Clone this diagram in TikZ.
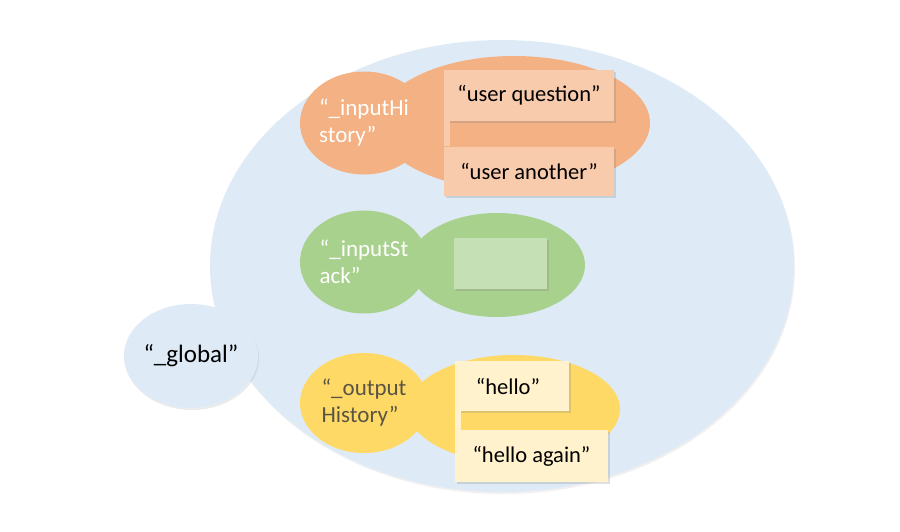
\documentclass[tikz,border=0pt]{standalone}
\usepackage{fontspec}
\setmainfont{Carlito}
\usetikzlibrary{shapes.geometric,shadows}
\definecolor{bgblue}{HTML}{DEEBF7}
\definecolor{orD}{HTML}{F4B183}
\definecolor{orL}{HTML}{F8CBAD}
\definecolor{grD}{HTML}{A9D18E}
\definecolor{grL}{HTML}{C5E0B4}
\definecolor{yeD}{HTML}{FFD966}
\definecolor{yeL}{HTML}{FFF2CC}
\definecolor{yetext}{HTML}{595443}
\tikzset{
  blob/.style={ellipse, inner sep=0pt, draw=none},
  keyblob/.style={blob, minimum width=128pt, minimum height=103pt, align=left,
     font=\fontsize{23}{27}\selectfont, text=white},
  valbox/.style={rectangle, inner sep=0pt, draw=none, font=\fontsize{22.5}{26}\selectfont,
     drop shadow={shadow xshift=2pt, shadow yshift=-2pt, opacity=0.25}},
}
\begin{document}
\begin{tikzpicture}[x=1pt,y=-1pt]
\useasboundingbox (0,0) rectangle (900,531);
% big scope ellipse
\node[blob, fill=bgblue, minimum width=584pt, minimum height=452pt,
  drop shadow={shadow xshift=1pt, shadow yshift=-2pt, opacity=0.12}] (scope) at (502,266) {};
\node[blob, fill=bgblue, minimum width=126pt, minimum height=104pt,
  drop shadow={shadow xshift=1pt, shadow yshift=-2pt, opacity=0.15},
  font=\fontsize{25}{29}\selectfont] (global) at (191,356) {“\_global”};
% orange group
\node[blob, fill=orD, minimum width=272pt, minimum height=134pt] (ihbig) at (514,123) {};
\node[keyblob, fill=orD] (ih) at (364,123) {“\_inputHi\\story”};
\node[valbox, fill=orL, minimum width=170pt, minimum height=51pt] (q1) at (529,95) {“user question”};
\node[valbox, fill=orL, minimum width=170pt, minimum height=49pt] (q2) at (529,171) {“user another”};
\fill[orL] (q1.south west) rectangle ([xshift=6pt]q2.north west);
% green group
\node[blob, fill=grD, minimum width=176pt, minimum height=104pt] (isbig) at (497,265) {};
\node[keyblob, fill=grD] (is) at (364,262) {“\_inputSt\\ack”};
\node[valbox, fill=grL, minimum width=93pt, minimum height=51pt] (s1) at (500.5,263.5) {};
% yellow group
\node[blob, fill=yeD, minimum width=212pt, minimum height=108pt] (ohbig) at (514,409) {};
\node[keyblob, fill=yeD, text=yetext, minimum height=100pt] (oh) at (364,403) {“\_output\\History”};
\node[valbox, fill=yeL, minimum width=114pt, minimum height=50pt] (h1) at (512,386) {“hello”\hspace*{8pt}};
\node[valbox, fill=yeL, minimum width=153pt, minimum height=52pt] (h2) at (531.5,456) {“hello again”};
\fill[yeL] (h1.south west) rectangle ([xshift=6pt]h2.north west);
\end{tikzpicture}
\end{document}
